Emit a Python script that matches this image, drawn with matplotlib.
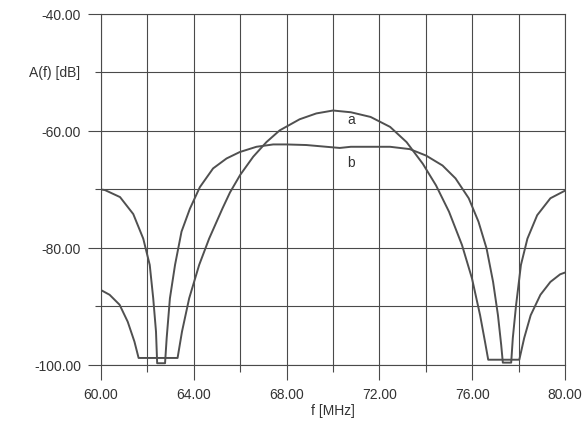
import matplotlib.pyplot as plt
from matplotlib.ticker import MultipleLocator, FormatStrFormatter
import matplotlib.transforms as mtransforms

plt.rcParams['font.family'] = ['Liberation Sans', 'DejaVu Sans']

# curve a (narrow main lobe)
f_a = [60.0, 60.37, 60.8, 61.15, 61.44, 61.62, 63.3, 63.49, 63.8, 64.23,
       64.66, 65.24, 65.56, 66.0, 66.56, 67.13, 67.7, 68.56, 69.28, 70.0,
       70.77, 71.62, 72.46, 73.17, 73.87, 74.44, 75.0, 75.56, 75.99, 76.34,
       76.55, 76.69, 78.03, 78.24, 78.52, 78.94, 79.37, 79.79, 80.0]
a_db = [-87.2, -88.0, -89.7, -92.6, -96.0, -98.8, -98.8, -94.3, -88.6, -82.9,
        -78.4, -73.2, -70.5, -67.5, -64.4, -61.9, -59.9, -58.0, -57.0, -56.5,
        -56.8, -57.6, -59.3, -61.9, -65.6, -69.3, -73.8, -79.5, -85.2, -91.5,
        -96.0, -99.1, -99.1, -95.4, -91.5, -88.0, -85.8, -84.5, -84.2]

# curve b (flat top)
f_b = [60.0, 60.17, 60.82, 61.39, 61.82, 62.1, 62.25, 62.37, 62.42, 62.76,
       62.83, 62.97, 63.19, 63.47, 63.83, 64.26, 64.83, 65.41, 65.98, 66.7,
       67.42, 67.99, 68.85, 69.71, 70.29, 70.77, 71.62, 72.46, 73.31, 74.01,
       74.72, 75.28, 75.85, 76.27, 76.62, 76.9, 77.11, 77.25, 77.32, 77.68,
       77.75, 77.89, 78.1, 78.38, 78.8, 79.37, 80.0]
b_db = [-70.0, -70.1, -71.3, -74.2, -78.4, -82.9, -88.6, -94.3, -99.7, -99.7,
        -95.4, -88.6, -82.9, -77.2, -73.3, -69.6, -66.4, -64.7, -63.6, -62.7,
        -62.3, -62.3, -62.4, -62.7, -62.9, -62.7, -62.7, -62.7, -63.1, -64.2,
        -65.9, -68.1, -71.5, -75.5, -80.1, -85.8, -91.5, -96.6, -99.6, -99.6,
        -95.4, -89.8, -82.9, -78.4, -74.4, -71.5, -70.2]

grid_c = '#4a4a4a'
line_c = '#505050'
text_c = '#333333'

fig = plt.figure(figsize=(5.88, 4.27), dpi=100)
ax = fig.add_axes([0.1718, 0.1429, 0.7891, 0.8220])

ax.plot(f_a, a_db, color=line_c, lw=1.4)
ax.plot(f_b, b_db, color=line_c, lw=1.4)

ax.text(70.78, -57.95, 'a', color=text_c, fontsize=10, ha='center', va='center')
ax.text(70.78, -65.35, 'b', color=text_c, fontsize=10, ha='center', va='center')

ax.set_xlim(60, 80)
ax.set_ylim(-100, -40)
ax.xaxis.set_major_locator(MultipleLocator(4))
ax.xaxis.set_minor_locator(MultipleLocator(2))
ax.yaxis.set_major_locator(MultipleLocator(20))
ax.yaxis.set_minor_locator(MultipleLocator(10))
ax.xaxis.set_major_formatter(FormatStrFormatter('%.2f'))
ax.yaxis.set_major_formatter(FormatStrFormatter('%.2f'))

ax.grid(which='both', color=grid_c, lw=0.8)
for s in ax.spines.values():
    s.set_color(grid_c)
    s.set_linewidth(0.8)

ax.tick_params(axis='x', which='major', length=11, width=0.8, color=grid_c,
               labelsize=10, labelcolor=text_c, pad=5)
ax.tick_params(axis='x', which='minor', length=5, width=0.8, color=grid_c)
ax.tick_params(axis='y', which='major', length=9.5, width=0.8, color=grid_c,
               labelsize=10, labelcolor=text_c, pad=5)
ax.tick_params(axis='y', which='minor', length=4.5, width=0.8, color=grid_c)

ax.set_xlabel('f [MHz]', fontsize=10, color=text_c, labelpad=1)
trans = mtransforms.blended_transform_factory(ax.transAxes, ax.transData)
ax.text(-0.045, -50, 'A(f) [dB]', transform=trans, ha='right', va='center',
        fontsize=10, color=text_c)

fig.savefig('out.png', dpi=100)
